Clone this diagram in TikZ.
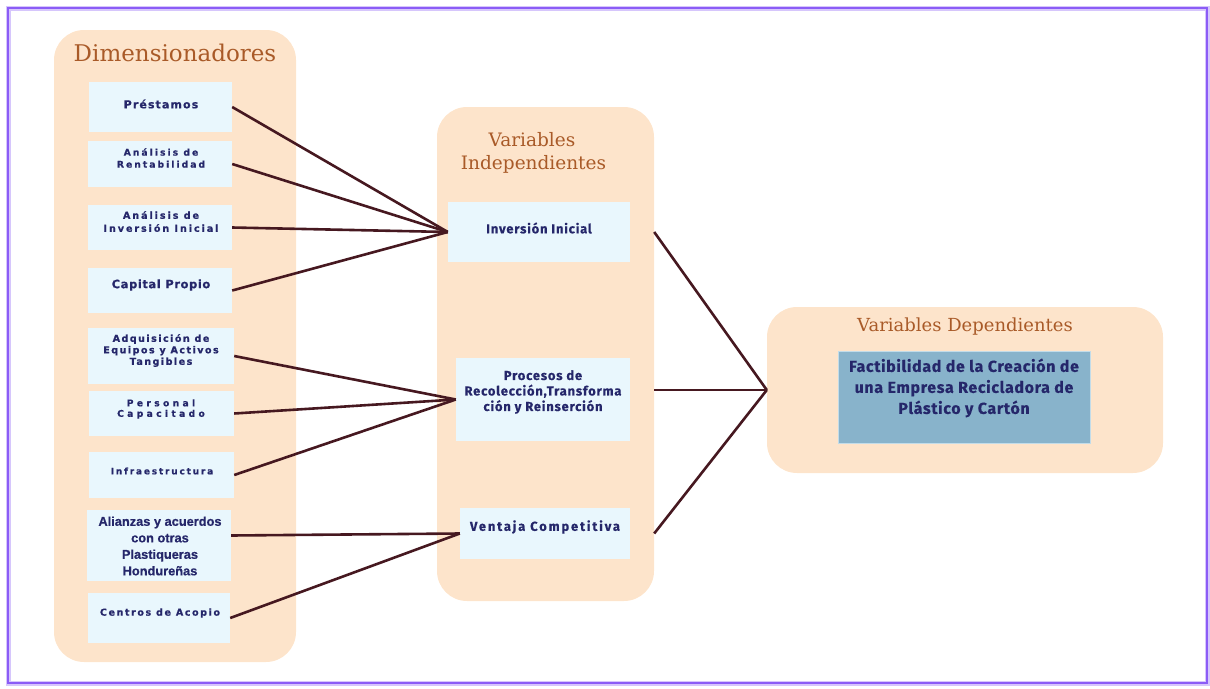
\documentclass[tikz,border=0pt]{standalone}
\usepackage{fontspec}
\setmainfont{DejaVu Serif}
\setsansfont{DejaVu Sans}
\newfontfamily\firafont{Fira Sans}
\newfontfamily\arialfont{Liberation Sans}
\usetikzlibrary{calc}
\definecolor{peach}{HTML}{FDE4CB}
\definecolor{lblue}{HTML}{E9F7FD}
\definecolor{navy}{HTML}{25276A}
\definecolor{titlebrown}{HTML}{A95A28}
\definecolor{linecol}{HTML}{461820}
\definecolor{dblue}{HTML}{88B3CB}
\definecolor{frame}{HTML}{8B5CF6}
\newcommand{\fs}[2]{\fontsize{#1}{#2}\selectfont}
\newcommand{\ls}[1]{\addfontfeatures{LetterSpace=#1,FakeBold=0.6}}
\newcommand{\lf}[1]{\addfontfeatures{LetterSpace=#1,FakeBold=0.3}}
\tikzset{
  panel/.style={fill=peach, draw=none, rounded corners=30pt},
  box/.style={fill=lblue, draw=none, inner sep=0pt},
  dtxt/.style={text=navy, align=center, inner sep=0pt, font=\sffamily\bfseries},
  ftxt/.style={text=navy, align=center, inner sep=0pt, font=\firafont\bfseries},
  ttl/.style={text=titlebrown, align=center, inner sep=0pt},
  conn/.style={draw=linecol, line width=2.6pt}
}
\begin{document}
\begin{tikzpicture}[x=1pt,y=-1pt]
\useasboundingbox (0,0) rectangle (1210,688);
\draw[frame!35, line width=5pt] (8,8) rectangle (1207,683);
\draw[frame, line width=2.5pt] (8,8) rectangle (1207,683);
% panels
\node[panel, minimum width=242pt, minimum height=632pt] (dim) at (175,346) {};
\node[panel, minimum width=217pt, minimum height=494pt] (indep) at (545.5,354) {};
\node[panel, minimum width=396pt, minimum height=166pt] (dep) at (965,390) {};
% titles
\node[ttl, font=\fs{23}{26}] (tdim) at (175,53) {Dimensionadores};
\node[ttl, font=\fs{18.5}{23}] (tind) at (532,153) {Variables\\\hspace*{3pt}Independientes};
\node[ttl, font=\fs{18}{22}] (tdep) at (965,327) {Variables Dependientes};
% left boxes
\node[box, minimum width=143pt, minimum height=50pt] (b1) at (160.5,107) {};
\node[box, minimum width=144pt, minimum height=46pt] (b2) at (160,164) {};
\node[box, minimum width=144pt, minimum height=45pt] (b3) at (160,227.5) {};
\node[box, minimum width=144pt, minimum height=45pt] (b4) at (160,290.5) {};
\node[box, minimum width=146pt, minimum height=56pt] (b5) at (161,356) {};
\node[box, minimum width=145pt, minimum height=45pt] (b6) at (161.5,413.5) {};
\node[box, minimum width=145pt, minimum height=46pt] (b7) at (161.5,475) {};
\node[box, minimum width=144pt, minimum height=71pt] (b8) at (159,545.5) {};
\node[box, minimum width=142pt, minimum height=50pt] (b9) at (159,618) {};
% left texts
\node[dtxt, font=\sffamily\bfseries\ls{10}\fs{11}{12}] (t1) at (161,104) {Préstamos};
\node[dtxt, font=\sffamily\bfseries\ls{22}\fs{9.2}{12}] (t2) at (161,158) {Análisis de\\Rentabilidad};
\node[dtxt, font=\sffamily\bfseries\ls{20}\fs{9.6}{13}] (t3) at (161,221.5) {Análisis de\\Inversión Inicial};
\node[dtxt, font=\sffamily\bfseries\ls{5}\fs{11.5}{12}] (t4) at (161,285) {Capital Propio};
\node[dtxt, font=\sffamily\bfseries\ls{15}\fs{9.6}{11.5}] (t5) at (161,350.5) {Adquisición de\\Equipos y Activos\\Tangibles};
\node[dtxt, font=\sffamily\bfseries\ls{36}\fs{9.2}{10.5}] (t6) at (161,409) {Personal\\Capacitado};
\node[dtxt, font=\sffamily\bfseries\ls{20}\fs{9}{12}] (t7) at (162,471) {Infraestructura};
\node[dtxt, font=\arialfont\bfseries\ls{0}\fs{12.8}{16.5}] (t8) at (160,546) {Alianzas y acuerdos\\con otras\\Plastiqueras\\Hondureñas};
\node[dtxt, font=\sffamily\bfseries\ls{16}\fs{9.6}{12}] (t9) at (160,613) {Centros de Acopio};
% middle boxes
\node[box, minimum width=182pt, minimum height=60pt] (i1) at (539,232) {};
\node[box, minimum width=174pt, minimum height=83pt] (i2) at (543,399.5) {};
\node[box, minimum width=170pt, minimum height=51pt] (i3) at (545,533.5) {};
\node[ftxt, font=\firafont\bfseries\lf{6}\fs{13}{14}] (ti1) at (539,228) {Inversión Inicial};
\node[ftxt, font=\firafont\bfseries\lf{6}\fs{13}{15.5}] (ti2) at (543,392) {Procesos de\\Recolección,Transforma\\ción y Reinserción};
\node[ftxt, font=\firafont\bfseries\lf{14}\fs{13}{14}] (ti3) at (545,527) {Ventaja Competitiva};
% dependent box
\node[fill=dblue, draw=lblue!60!dblue, line width=0.8pt, minimum width=252pt, minimum height=92pt, inner sep=0pt] (d1) at (964,397) {};
\node[ftxt, font=\firafont\bfseries\lf{4}\fs{16}{21}] (td1) at (964,388) {Factibilidad de la Creación de\\una Empresa Recicladora de\\Plástico y Cartón};
% connectors
\draw[conn] (b1.east) -- (i1.west);
\draw[conn] (b2.east) -- (i1.west);
\draw[conn] (b3.east) -- (i1.west);
\draw[conn] (b4.east) -- (i1.west);
\draw[conn] (b5.east) -- (i2.west);
\draw[conn] (b6.east) -- (i2.west);
\draw[conn] (b7.east) -- (i2.west);
\draw[conn] ([yshift=10pt]b8.east) -- (i3.west);
\draw[conn] (b9.east) -- (i3.west);
\draw[conn] (indep.east |- i1.east) -- (dep.west);
\draw[conn] (indep.east |- dep.west) -- (dep.west);
\draw[conn] (indep.east |- i3.east) -- (dep.west);
\end{tikzpicture}
\end{document}
